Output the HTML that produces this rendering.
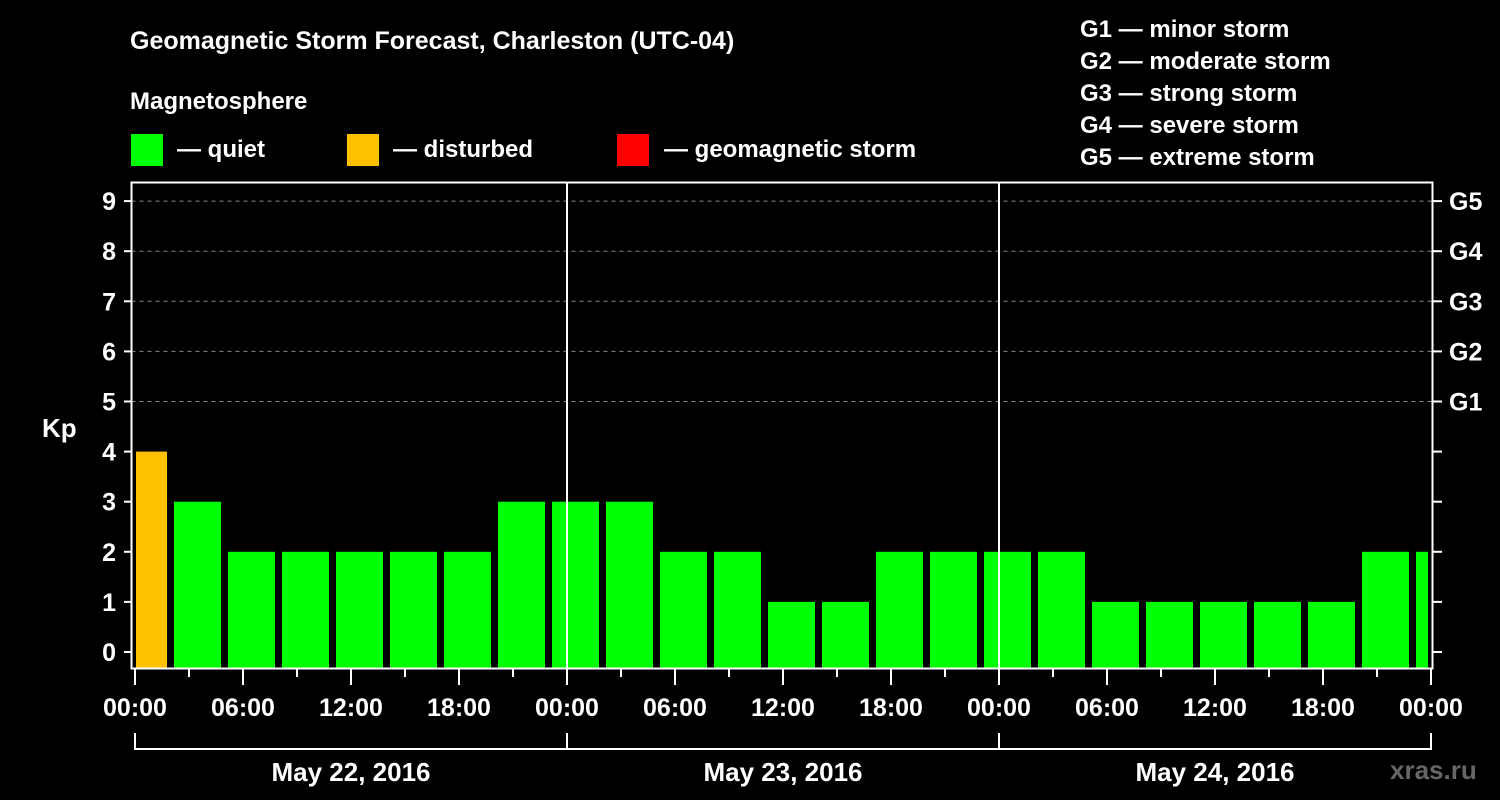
<!DOCTYPE html>
<html><head><meta charset="utf-8"><style>
body{margin:0;background:#000;width:1500px;height:800px;overflow:hidden}
svg{display:block;font-family:"Liberation Sans",sans-serif;font-weight:bold}
</style></head><body>
<svg id="c" width="1500" height="800">
<rect width="1500" height="800" fill="#000"/>
<text x="130" y="49" fill="#fff" font-size="25">Geomagnetic Storm Forecast, Charleston (UTC-04)</text>
<text x="130" y="109" fill="#fff" font-size="24">Magnetosphere</text>
<g><rect x="131" y="134" width="32" height="32" fill="#00ff00"/><text x="177" y="157" fill="#fff" font-size="24">— quiet</text></g>
<g><rect x="347" y="134" width="32" height="32" fill="#ffc000"/><text x="393" y="157" fill="#fff" font-size="24">— disturbed</text></g>
<g><rect x="617" y="134" width="32" height="32" fill="#ff0000"/><text x="664" y="157" fill="#fff" font-size="24">— geomagnetic storm</text></g>
<g fill="#fff" font-size="24">
<text x="1080" y="37">G1 — minor storm</text>
<text x="1080" y="69">G2 — moderate storm</text>
<text x="1080" y="101">G3 — strong storm</text>
<text x="1080" y="133">G4 — severe storm</text>
<text x="1080" y="165">G5 — extreme storm</text>
</g>
<text x="42" y="437" fill="#fff" font-size="26">Kp</text>
<text x="1390" y="779" fill="#666" font-size="26">xras.ru</text>
<g id="g"></g>
</svg>
<script>
const kpValues=[4,3,2,2,2,2,2,3,3,3,2,2,1,1,2,2,2,2,1,1,1,1,1,2,2];
const barStartHours=[-1,2,5,8,11,14,17,20,23,26,29,32,35,38,41,44,47,50,53,56,59,62,65,68,71];
const xTickLabels=["00:00","06:00","12:00","18:00","00:00","06:00","12:00","18:00","00:00","06:00","12:00","18:00","00:00"];
const dayLabels=["May 22, 2016","May 23, 2016","May 24, 2016"];
const yTicks=[0,1,2,3,4,5,6,7,8,9];
const gLabels=["G1","G2","G3","G4","G5"];
const X=h=>135+18*h, Y=v=>652-50.1*v;
const L=131.5,R=1432.5,T=182.5,B=668.5;
const g=document.getElementById('g');
const NS='http://www.w3.org/2000/svg';
function mk(t,a,p){const e=document.createElementNS(NS,t);for(const k in a)e.setAttribute(k,a[k]);(p||g).appendChild(e);return e;}
yTicks.forEach(v=>{if(v>=5){const l=mk('line',{x1:L,x2:R,y1:Y(v),y2:Y(v),stroke:'#888','stroke-dasharray':'4,4'});

}
const t=mk('line',{x1:124,x2:L,y1:Y(v),y2:Y(v),stroke:'#fff','stroke-width':2});
const tr=mk('line',{x1:R,x2:1442,y1:Y(v),y2:Y(v),stroke:'#fff','stroke-width':2});
const tx=mk('text',{x:116,y:Y(v)+9,fill:'#fff','font-size':25,'text-anchor':'end'});tx.textContent=v;

});
gLabels.forEach((s,i)=>{const t=mk('text',{x:1449,y:Y(5+i)+9,fill:'#fff','font-size':25});t.textContent=s;

});
kpValues.forEach((v,i)=>{const h=barStartHours[i];let x0=X(h)+3,x1=X(h+3)-4;x0=Math.max(x0,136);x1=Math.min(x1,1428);
const col=v>=5?'#ff0000':v>=4?'#ffc000':'#00ff00';
const r=mk('rect',{x:x0,y:Y(v),width:x1-x0,height:668-Y(v),fill:col});

});
[24,48].forEach(h=>mk('line',{x1:X(h),x2:X(h),y1:T,y2:B,stroke:'#fff','stroke-width':2}));
const fr=mk('rect',{x:L,y:T,width:R-L,height:B-T,fill:'none',stroke:'#fff','stroke-width':2});


for(let h=0;h<=72;h+=3){mk('line',{x1:X(h),x2:X(h),y1:B,y2:h%6==0?685:677,stroke:'#fff','stroke-width':2});}
xTickLabels.forEach((s,i)=>{const t=mk('text',{x:X(i*6),y:716,fill:'#fff','font-size':25,'text-anchor':'middle'});t.textContent=s;

});
mk('line',{x1:X(0),x2:X(72),y1:749,y2:749,stroke:'#fff','stroke-width':2});
[0,24,48,72].forEach(h=>mk('line',{x1:X(h),x2:X(h),y1:733,y2:750,stroke:'#fff','stroke-width':2}));
dayLabels.forEach((s,i)=>{const t=mk('text',{x:X(i*24+12),y:781,fill:'#fff','font-size':26,'text-anchor':'middle'});t.textContent=s;

});
</script>
</body></html>
